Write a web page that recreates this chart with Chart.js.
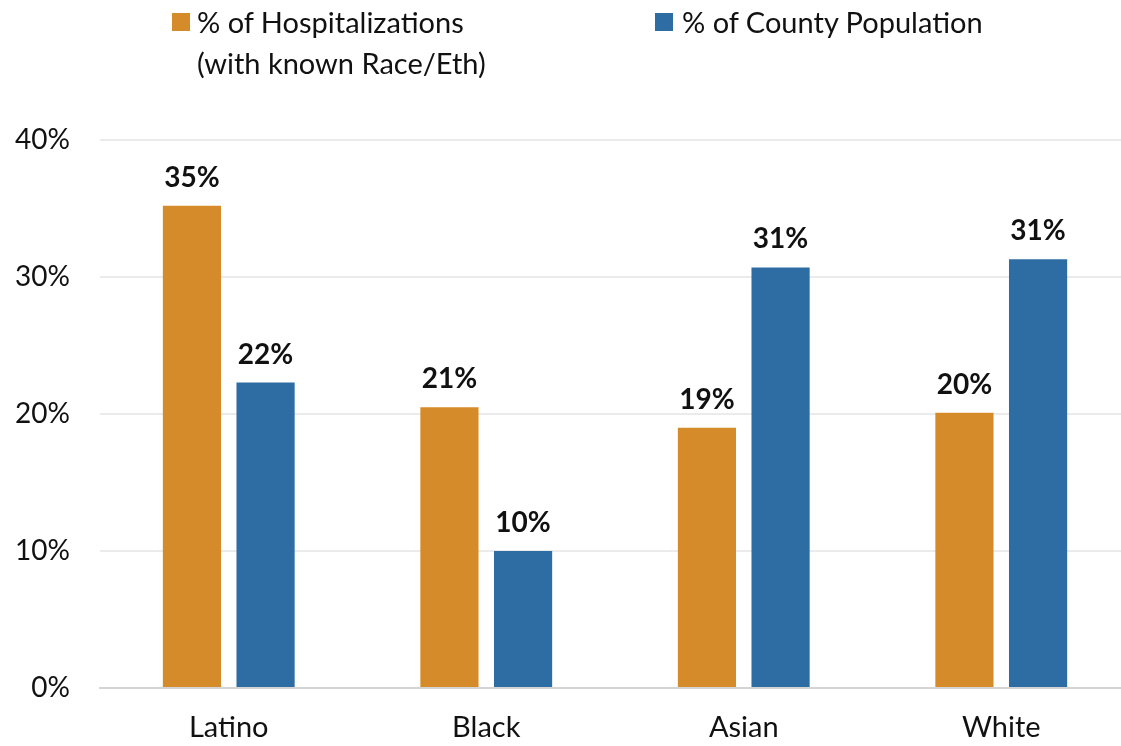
<!DOCTYPE html>
<html>
<head>
<meta charset="utf-8">
<script src="https://cdn.jsdelivr.net/npm/chart.js@4/dist/chart.umd.min.js"></script>
<style>
  html, body { margin: 0; padding: 0; background: #fff; overflow: hidden; }
  #wrap { position: relative; width: 1130px; height: 746px; }
  .legend { position: absolute; font-family: Lato, "Open Sans", sans-serif; font-size: 29px; color: #111; line-height: 41px; }
  .swatch { position: absolute; width: 18px; height: 18px; }
</style>
</head>
<body>
<div id="wrap">
  <div class="swatch" style="left:172px; top:13px; background:#D68B2A;"></div>
  <div class="legend" style="left:197px; top:1px;">% of Hospitalizations<br>(with known Race/Eth)</div>
  <div class="swatch" style="left:655px; top:13px; background:#2E6DA4;"></div>
  <div class="legend" style="left:682px; top:1px;">% of County Population</div>
  <canvas id="chart" width="1130" height="746"></canvas>
</div>
<script>
// Chart data
const categories = ['Latino', 'Black', 'Asian', 'White'];
const hospitalizations = [35.2, 20.5, 19.0, 20.1];
const countyPopulation = [22.3, 10.0, 30.7, 31.3];
const hospLabels = ['35%', '21%', '19%', '20%'];
const popLabels = ['22%', '10%', '31%', '31%'];
const yTicks = [0, 10, 20, 30, 40];

const fontFamily = 'Lato, "Open Sans", sans-serif';

// Draw value labels above each bar
const barLabels = {
    id: 'barLabels',
    afterDatasetsDraw(chart) {
        const ctx = chart.ctx;
        ctx.save();
        ctx.font = 'bold 28px ' + fontFamily;
        ctx.fillStyle = '#111';
        ctx.textAlign = 'center';
        ctx.textBaseline = 'bottom';
        chart.data.datasets.forEach((ds, i) => {
            const meta = chart.getDatasetMeta(i);
            meta.data.forEach((bar, j) => {
                ctx.fillText(ds.valueLabels[j], bar.x, bar.y - 14);
            });
        });
        ctx.restore();
    }
};

const ctx = document.getElementById('chart').getContext('2d');
new Chart(ctx, {
    type: 'bar',
    data: {
        labels: categories,
        datasets: [
            {
                label: '% of Hospitalizations (with known Race/Eth)',
                data: hospitalizations,
                valueLabels: hospLabels,
                backgroundColor: '#D68B2A'
            },
            {
                label: '% of County Population',
                data: countyPopulation,
                valueLabels: popLabels,
                backgroundColor: '#2E6DA4'
            }
        ]
    },
    options: {
        responsive: false,
        animation: false,
        datasets: {
            bar: { categoryPercentage: 0.572, barPercentage: 0.79 }
        },
        layout: { padding: { top: 140, right: 0, bottom: 0, left: 0 } },
        plugins: {
            legend: { display: false },
            tooltip: { enabled: false }
        },
        scales: {
            x: {
                grid: { display: false },
                border: { color: '#d4d4d4', width: 2 },
                afterFit(scale) { scale.height = 58; },
                ticks: {
                    color: '#111',
                    font: { family: fontFamily, size: 29 },
                    padding: 14
                }
            },
            y: {
                min: 0,
                max: 40,
                afterBuildTicks(scale) {
                    scale.ticks = yTicks.map(v => ({ value: v }));
                },
                afterFit(scale) { scale.width = 100; },
                grid: { color: '#ebebeb', lineWidth: 2, drawTicks: false },
                border: { display: false },
                ticks: {
                    color: '#111',
                    font: { family: fontFamily, size: 28 },
                    padding: 30,
                    callback: v => v + '%'
                }
            }
        }
    },
    plugins: [barLabels]
});
</script>
</body>
</html>
